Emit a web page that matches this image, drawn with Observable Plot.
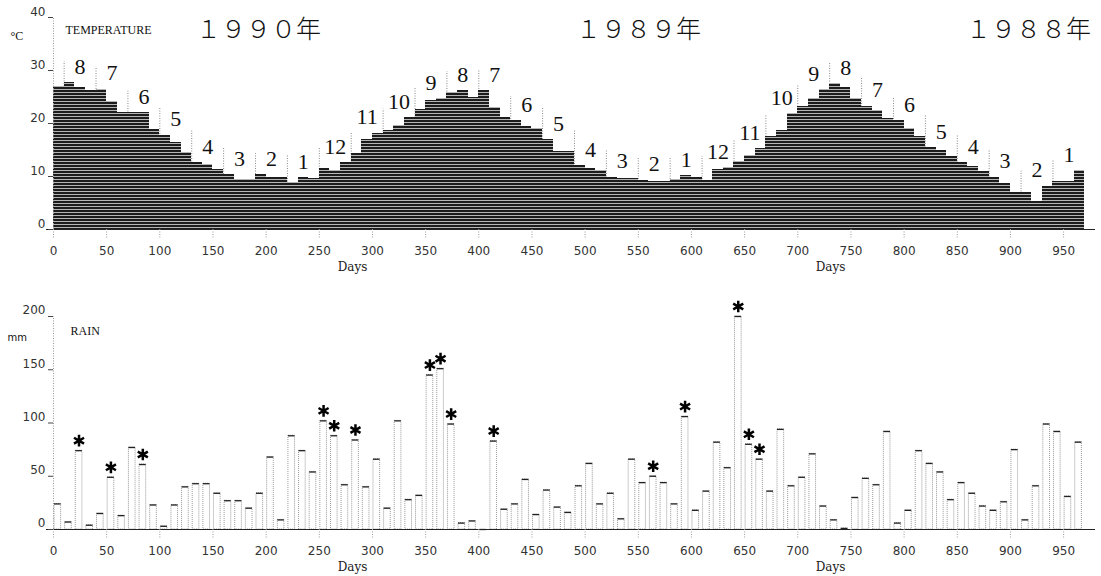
<!DOCTYPE html>
<html><head><meta charset="utf-8">
<script src="https://cdn.jsdelivr.net/npm/d3@7"></script>
<script src="https://cdn.jsdelivr.net/npm/@observablehq/plot@0.6"></script>
<style>
body{margin:0;background:#fff;width:1101px;height:576px;overflow:hidden}
#top,#bot{display:block;line-height:0}
svg{display:block}
</style></head><body>
<div id="top"></div><div id="bot"></div>
<script>
// ---- data (10-day periods, newest at left) ----
const temps = [26.9,27.7,26.8,26.3,26.5,24.1,22.1,22.1,22.1,18.9,
  17.8,16.5,14.6,12.6,12.3,11.4,10.3,9.5,9.5,10.3,
  9.9,9.9,8.8,9.8,9.6,11.5,11.2,12.6,14.3,17.0,
  18.2,18.7,19.7,21.1,22.6,24.3,24.7,25.8,26.2,25.0,
  26.2,23.0,21.1,20.5,19.5,19.1,17.0,14.7,14.7,12.0,
  11.5,11.1,9.9,9.6,9.6,9.3,9.0,9.0,9.4,10.1,
  9.8,9.3,11.3,11.7,12.8,14.0,15.2,17.6,18.7,21.9,
  23.3,24.7,26.4,27.5,26.8,24.8,23.3,22.5,20.9,20.5,
  19.1,17.5,15.4,15.0,13.8,12.6,11.8,11.0,9.9,8.7,
  7.0,7.0,5.3,8.2,9.0,9.0,11.1];
const rain = [24,7,74,4,15,49,13,77,61,23,
  3,23,40,43,43,34,27,27,20,34,
  68,9,88,74,54,102,88,42,84,40,
  66,20,102,28,32,145,151,99,6,8,
  0,83,19,24,47,14,37,21,16,41,
  62,24,34,10,66,44,50,44,24,106,
  18,36,82,58,200,80,66,36,94,41,
  49,71,22,9,1,30,48,42,92,6,
  18,74,62,54,28,44,34,22,18,26,
  75,9,41,99,92,31,82];
const starSlots = [2,5,8,25,26,28,35,36,37,41,56,59,64,65,66];
const monthLabels = [8,7,6,5,4,3,2,1,12,11,10,9,8,7,6,5,4,3,2,1,12,11,10,9,8,7,6,5,4,3,2,1];
const yearLabels = ["１９９０年","１９８９年","１９８８年"];
const dayTicks = d3.range(0, 951, 50);
const tempTicks = [0,10,20,30,40];
const rainTicks = [0,50,100,150,200];
const DEKAD = 10;

// ---- derived tables ----
const tData = temps.map((t,i)=>({start:i*DEKAD, end:(i+1)*DEKAD, t}));
const rData = rain.map((r,i)=>({start:i*DEKAD, end:(i+1)*DEKAD, r, star: starSlots.includes(i)}));
const months = monthLabels.map((m,k)=>{
  const idx = 1+3*k, s = idx*DEKAD;
  return {label:String(m), start:s, mid:s+1.5*DEKAD, top:d3.max(temps.slice(idx, idx+3)),
          btop: Math.max(temps[idx-1], temps[idx])};
});

// ---- layout constants ----
const W = 1101;
const yearDx = [205, 585, 975];
const daysDx = [299, 777];
const serif = "Liberation Serif";

const topSvg = Plot.plot({
  width: W, height: 285, marginLeft: 53, marginRight: 6, marginTop: 17, marginBottom: 56,
  x: {domain:[0,980], axis:null},
  y: {domain:[0,40], axis:null},
  style: {fontFamily:"DejaVu Sans", fontSize:"12px", color:"#333", background:"#fff"},
  marks: [
    Plot.ruleX(months, {x:"start", y1:0, y2:d=>d.btop+4, stroke:"#888", strokeDasharray:"1,1.5"}),
    Plot.rectY(tData, {x1:"start", x2:"end", y:"t", fill:"url(#stripes)", shapeRendering:"crispEdges"}),
    Plot.text(months, {x:"mid", y:d=>d.top+3, text:"label", fontFamily:serif, fontSize:22, fill:"#111"}),
    Plot.ruleX([0], {y1:0, y2:40, stroke:"#999", strokeDasharray:"1,1.5"}),
    Plot.ruleY([0], {stroke:"#222", insetLeft:-7}),
    Plot.axisY({ticks:tempTicks, tickSize:5, tickFormat:()=>"", stroke:"#444", label:null}),
    Plot.axisY({ticks:tempTicks, tickSize:0, tickPadding:8, dy:-5, fill:"#333", label:null}),
    Plot.axisX({ticks:dayTicks, tickSize:10, tickPadding:7, stroke:"#999", strokeDasharray:"1,1.5", fill:"#333", label:null}),
    ...yearLabels.map((y,i)=>Plot.text([y], {text:d=>d, frameAnchor:"top-left", dx:yearDx[i], dy:3,
        textAnchor:"middle", fontFamily:"Noto Sans CJK JP", fontWeight:300, fontSize:25, fill:"#111"})),
    Plot.text(["TEMPERATURE"], {text:d=>d, frameAnchor:"top-left", dx:12, dy:8, textAnchor:"start", fontFamily:serif, fontSize:12, fill:"#111"}),
    Plot.text(["°C"], {text:d=>d, frameAnchor:"top-left", dx:-43, dy:14, textAnchor:"start", fontFamily:serif, fontSize:12, fill:"#111"}),
    ...daysDx.map(dx=>Plot.text(["Days"], {text:d=>d, frameAnchor:"bottom-left", dx, dy:41, textAnchor:"middle", fontFamily:"DejaVu Serif", fontSize:12, fill:"#222"}))
  ]
});
const defs = d3.select(topSvg).insert("defs", ":first-child");
const pat = defs.append("pattern").attr("id","stripes").attr("patternUnits","userSpaceOnUse").attr("width",4).attr("height",3);
pat.append("rect").attr("width",4).attr("height",3).attr("fill","#b5b5b5");
pat.append("rect").attr("width",4).attr("height",2).attr("fill","#1c1c1c");
document.getElementById("top").appendChild(topSvg);

const botSvg = Plot.plot({
  width: W, height: 291, marginLeft: 53, marginRight: 6, marginTop: 31, marginBottom: 47,
  x: {domain:[0,980], axis:null},
  y: {domain:[0,200], axis:null},
  style: {fontFamily:"DejaVu Sans", fontSize:"12px", color:"#333", background:"#fff"},
  marks: [
    Plot.ruleX([0], {y1:0, y2:200, stroke:"#999", strokeDasharray:"1,1.5"}),
    Plot.rectY(rData, {x1:"start", x2:"end", y:"r", insetLeft:1, insetRight:3, fill:"none", stroke:"#999", strokeDasharray:"1,1"}),
    Plot.ruleY(rData, {x1:"start", x2:"end", y:"r", insetLeft:1, insetRight:3, stroke:"#222", strokeWidth:1.3}),
    Plot.dot(rData.filter(d=>d.star), {x:d=>d.start+4, y:"r", dy:-10, symbol:"asterisk", r:5.5, stroke:"#000", strokeWidth:2.5}),
    Plot.ruleY([0], {stroke:"#222", insetLeft:-7}),
    Plot.axisY({ticks:rainTicks, tickSize:5, tickFormat:()=>"", stroke:"#444", label:null}),
    Plot.axisY({ticks:rainTicks, tickSize:0, tickPadding:8, dy:-6, fill:"#333", label:null}),
    Plot.axisX({ticks:dayTicks, tickSize:10, tickPadding:7, stroke:"#999", strokeDasharray:"1,1.5", fill:"#333", label:null}),
    Plot.text(["RAIN"], {text:d=>d, frameAnchor:"top-left", dx:17, dy:10, textAnchor:"start", fontFamily:serif, fontSize:12, fill:"#111"}),
    Plot.text(["mm"], {text:d=>d, frameAnchor:"top-left", dx:-46, dy:17, textAnchor:"start", fontFamily:"DejaVu Sans", fontSize:10, fill:"#111"}),
    ...daysDx.map(dx=>Plot.text(["Days"], {text:d=>d, frameAnchor:"bottom-left", dx, dy:41, textAnchor:"middle", fontFamily:"DejaVu Serif", fontSize:12, fill:"#222"}))
  ]
});
document.getElementById("bot").appendChild(botSvg);
</script>
</body></html>
